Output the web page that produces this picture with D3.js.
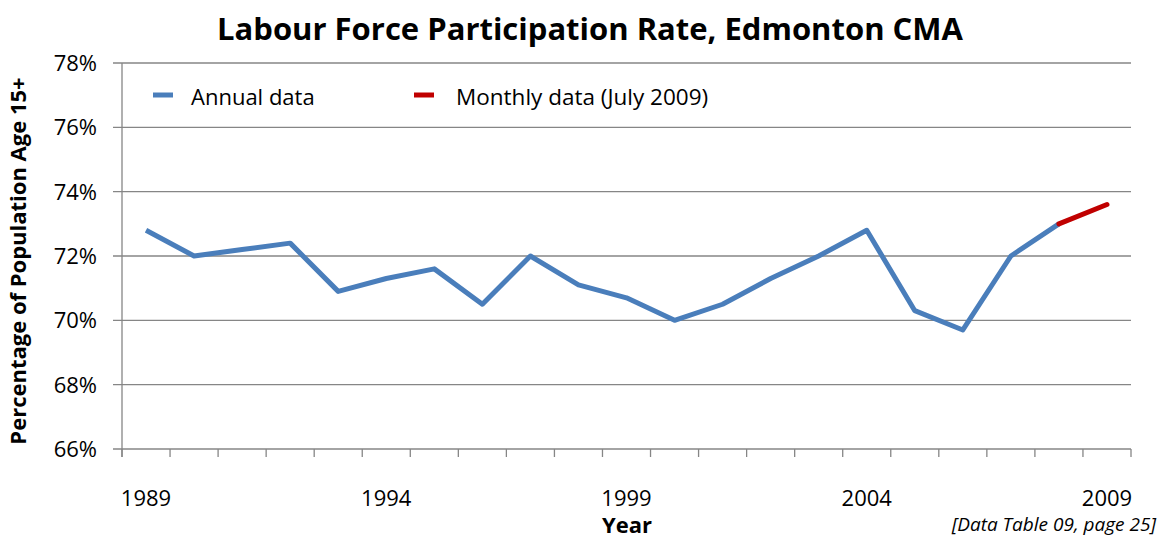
<!DOCTYPE html>
<html><head><meta charset="utf-8">
<script src="https://cdn.jsdelivr.net/npm/d3@7"></script>
<style>
body{margin:0;background:#fff;}
svg text{font-family:"Open Sans",sans-serif;fill:#000;}
</style></head>
<body><svg id="c" width="1159" height="540"></svg>
<script>
const years = ["1989","1990","1991","1992","1993","1994","1995","1996","1997","1998","1999","2000","2001","2002","2003","2004","2005","2006","2007","2008","2009"];
const annualValues = [72.8,72.0,72.2,72.4,70.9,71.3,71.6,70.5,72.0,71.1,70.7,70.0,70.5,71.3,72.0,72.8,70.3,69.7,72.0,73.0,null];
const monthlyYears = ["2008","2009"];
const monthlyValues = [73.0,73.6];
const yTicks = [66,68,70,72,74,76,78];
const xTickLabels = ["1989","1994","1999","2004","2009"];

const svg = d3.select("#c");
const L=122,R=1131,T=63,B=449;
const x = d3.scaleBand().domain(years).range([L,R]);
const y = d3.scaleLinear().domain([66,78]).range([B,T]);
const cx = d => x(d)+x.bandwidth()/2;
const grey="#868686";

// gridlines
svg.append("g").selectAll("line").data(yTicks).join("line")
  .attr("x1",L-9).attr("x2",R).attr("y1",d=>y(d)).attr("y2",d=>y(d))
  .attr("stroke",grey).attr("stroke-width",1.3);
// y axis line
svg.append("line").attr("x1",L).attr("x2",L).attr("y1",T).attr("y2",B+8).attr("stroke",grey).attr("stroke-width",1.3);
// x ticks at band boundaries
const bounds = years.map(d=>x(d)).concat([R]);
svg.append("g").selectAll("line").data(bounds).join("line")
  .attr("x1",d=>d).attr("x2",d=>d).attr("y1",B).attr("y2",B+8)
  .attr("stroke",grey).attr("stroke-width",1.3);

// y labels
svg.append("g").selectAll("text").data(yTicks).join("text")
  .attr("x",97).attr("y",d=>y(d)).attr("dy","0.36em").attr("text-anchor","end")
  .style("font-size","22px").text(d=>d+"%");
// x labels
svg.append("g").selectAll("text").data(xTickLabels).join("text")
  .attr("x",d=>cx(d)).attr("y",506).attr("text-anchor","middle")
  .style("font-size","22px").text(d=>d);

// lines
const line = d3.line().defined(d=>d[1]!=null).x(d=>cx(d[0])).y(d=>y(d[1]));
svg.append("path").datum(years.map((d,i)=>[d,annualValues[i]]))
  .attr("d",line).attr("fill","none").attr("stroke","#4A7EBB").attr("stroke-width",5).attr("stroke-linejoin","round");
svg.append("path").datum(monthlyYears.map((d,i)=>[d,monthlyValues[i]]))
  .attr("d",line).attr("fill","none").attr("stroke","#C00000").attr("stroke-width",5).attr("stroke-linecap","round");

// legend
svg.append("line").attr("x1",153).attr("x2",173).attr("y1",95).attr("y2",95).attr("stroke","#4A7EBB").attr("stroke-width",5);
svg.append("text").attr("x",191).attr("y",105).style("font-size","22px").text("Annual data");
svg.append("line").attr("x1",414).attr("x2",434).attr("y1",95).attr("y2",95).attr("stroke","#C00000").attr("stroke-width",5);
svg.append("text").attr("x",456).attr("y",105).style("font-size","22.5px").text("Monthly data (July 2009)");

// title
svg.append("text").attr("x",590).attr("y",40).attr("text-anchor","middle")
  .style("font-size","31px").style("font-weight","bold").text("Labour Force Participation Rate, Edmonton CMA");
// axis titles
svg.append("text").attr("transform","translate(26,261) rotate(-90)").attr("text-anchor","middle")
  .style("font-size","22px").style("font-weight","bold").text("Percentage of Population Age 15+");
svg.append("text").attr("x",627).attr("y",533).attr("text-anchor","middle")
  .style("font-size","22px").style("font-weight","bold").text("Year");
svg.append("text").attr("x",1156).attr("y",531).attr("text-anchor","end")
  .style("font-size","19px").style("font-style","italic").text("[Data Table 09, page 25]");
</script></body></html>
